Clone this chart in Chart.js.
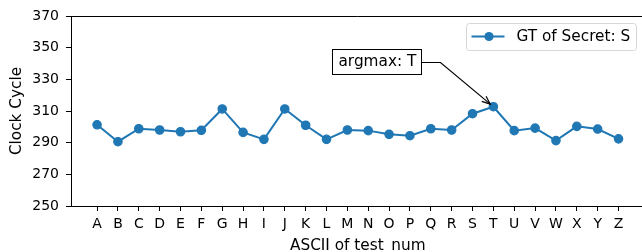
<!DOCTYPE html>
<html>
<head>
<meta charset="utf-8">
<script src="https://cdn.jsdelivr.net/npm/chart.js@4.4.0/dist/chart.umd.min.js"></script>
<style>
  html, body { margin: 0; padding: 0; background: #fff; overflow: hidden; }
  #wrap { width: 650px; height: 252px; position: relative; }
</style>
</head>
<body>
<div id="wrap"><canvas id="myChart"></canvas></div>
<script>
// data
const letters = ['A','B','C','D','E','F','G','H','I','J','K','L','M','N','O','P','Q','R','S','T','U','V','W','X','Y','Z'];
const cycles = [301.3, 290.6, 298.8, 298.0, 296.9, 297.8, 311.3, 296.5, 292.1, 311.3, 301.0, 292.1, 298.0,
                297.6, 295.3, 294.4, 298.8, 298.0, 308.3, 312.7, 297.6, 299.2, 291.3, 300.3, 298.6, 292.4];
const yTicks = [250, 270, 290, 310, 330, 350, 370];
const seriesName = 'GT of Secret: S';
const argmaxLetter = 'T';

const blue = '#1f77b4';
const FONT = 'DejaVu Sans';
const BIG = 15.3;

// top spine, legend box and the argmax annotation
const extras = {
  id: 'extras',
  afterDraw(chart) {
    const c = chart.ctx;
    const a = chart.chartArea;
    const xs = chart.scales.x, ys = chart.scales.y;
    c.save();

    // top spine
    c.strokeStyle = '#000';
    c.lineWidth = 1;
    c.beginPath();
    c.moveTo(a.left, a.top + 0.5);
    c.lineTo(a.right, a.top + 0.5);
    c.stroke();

    // legend
    const lx = 466.5, ly = 23.5, lw = 170, lh = 27;
    c.beginPath();
    c.roundRect(lx, ly, lw, lh, 3);
    c.fillStyle = 'rgba(255,255,255,0.8)';
    c.fill();
    c.strokeStyle = '#d6d6d6';
    c.stroke();
    const my = ly + lh / 2 - 0.5;
    c.strokeStyle = blue;
    c.lineWidth = 2;
    c.beginPath();
    c.moveTo(lx + 5, my);
    c.lineTo(lx + 38, my);
    c.stroke();
    c.beginPath();
    c.arc(lx + 22.5, my, 4.6, 0, Math.PI * 2);
    c.fillStyle = blue;
    c.fill();
    c.fillStyle = '#000';
    c.font = BIG + 'px "' + FONT + '"';
    c.textBaseline = 'middle';
    c.textAlign = 'left';
    c.fillText(seriesName, lx + 50, my + 0.5);

    // annotation
    const ti = letters.indexOf(argmaxLetter);
    const px = xs.getPixelForValue(ti);
    const py = ys.getPixelForValue(cycles[ti]);
    const label = 'argmax: ' + argmaxLetter;
    const tw = c.measureText(label).width;
    const cx = xs.getPixelForValue(13.40);
    const cy = ys.getPixelForValue(340.95);
    const bx = Math.round(cx - tw / 2 - 6) + 0.5;
    const bw = Math.round(tw + 11);
    const by = Math.round(cy - 12.5) + 0.5;
    c.fillStyle = '#fff';
    c.fillRect(bx, by, bw, 25);
    c.strokeStyle = '#000';
    c.lineWidth = 1;
    c.strokeRect(bx, by, bw, 25);
    c.fillStyle = '#000';
    c.fillText(label, bx + 6, cy + 0.5);

    const kx = bx + bw + 19, ky = Math.round(cy) + 0.5;
    const dx = px - kx, dy = py - ky;
    const len = Math.hypot(dx, dy);
    const ux = dx / len, uy = dy / len;
    const tx = px - ux * 4, tyy = py - uy * 4;
    c.lineWidth = 1.2;
    c.beginPath();
    c.moveTo(bx + bw, ky);
    c.lineTo(kx, ky);
    c.lineTo(tx, tyy);
    c.stroke();
    const ang = Math.atan2(dy, dx);
    const hl = 9, ha = 0.38;
    c.beginPath();
    c.moveTo(tx - hl * Math.cos(ang - ha), tyy - hl * Math.sin(ang - ha));
    c.lineTo(tx, tyy);
    c.lineTo(tx - hl * Math.cos(ang + ha), tyy - hl * Math.sin(ang + ha));
    c.stroke();

    c.restore();
  }
};

const ctx = document.getElementById('myChart');

new Chart(ctx, {
  type: 'line',
  data: {
    datasets: [{
      label: seriesName,
      data: cycles.map((v, i) => ({ x: i, y: v })),
      borderColor: blue,
      backgroundColor: blue,
      borderWidth: 2,
      pointRadius: 4.2,
      pointBorderWidth: 1.2,
      pointBackgroundColor: blue,
      pointBorderColor: blue,
      tension: 0
    }]
  },
  options: {
    responsive: true,
    maintainAspectRatio: false,
    animation: false,
    events: [],
    layout: {
      padding: { top: 16, right: 5, left: 0, bottom: 0 }
    },
    plugins: {
      legend: false,
      tooltip: { enabled: false }
    },
    scales: {
      x: {
        type: 'linear',
        min: -1.25,
        max: 26.25,
        afterBuildTicks: s => { s.ticks = letters.map((l, i) => ({ value: i })); },
        afterFit: s => { s.height = 46; },
        ticks: {
          autoSkip: false,
          maxRotation: 0,
          padding: 5,
          color: '#000',
          font: { family: FONT, size: 14 },
          callback: v => letters[v]
        },
        grid: { drawOnChartArea: false, drawTicks: true, tickLength: 5, color: '#000' },
        border: { display: true, color: '#000', width: 1 },
        title: {
          display: true,
          text: 'ASCII of test_num',
          color: '#000',
          font: { family: FONT, size: BIG },
          padding: { top: 0, bottom: -3.6 }
        }
      },
      y: {
        min: 250,
        max: 370,
        afterBuildTicks: s => { s.ticks = yTicks.map(v => ({ value: v })); },
        afterFit: s => { s.width = 71; },
        ticks: {
          padding: 7,
          color: '#000',
          font: { family: FONT, size: 14 }
        },
        grid: { drawOnChartArea: false, drawTicks: true, tickLength: 5, color: '#000' },
        border: { display: true, color: '#000', width: 1 },
        title: {
          display: true,
          text: 'Clock Cycle',
          color: '#000',
          font: { family: FONT, size: BIG },
          padding: { top: 8, bottom: 0 }
        }
      }
    }
  },
  plugins: [extras]
});
</script>
</body>
</html>
